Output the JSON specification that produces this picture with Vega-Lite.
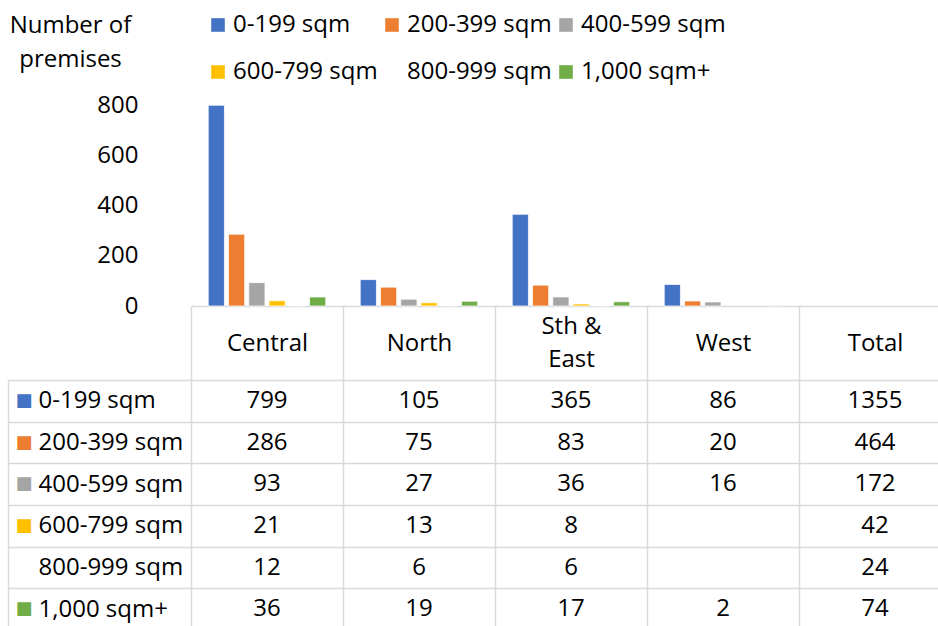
{
  "$schema": "https://vega.github.io/schema/vega-lite/v6.json",
  "padding": {"left": 7, "top": 13, "right": 0, "bottom": 0},
  "background": "white",
  "config": {
    "view": {"stroke": null},
    "font": "Open Sans",
    "axis": {"labelFont": "Open Sans", "titleFont": "Open Sans"},
    "legend": {"labelFont": "Open Sans"}
  },
  "datasets": {
    "premises": [
      {"region": "Central", "size": "0-199 sqm", "value": 799},
      {"region": "Central", "size": "200-399 sqm", "value": 286},
      {"region": "Central", "size": "400-599 sqm", "value": 93},
      {"region": "Central", "size": "600-799 sqm", "value": 21},
      {"region": "Central", "size": "800-999 sqm", "value": 12},
      {"region": "Central", "size": "1,000 sqm+", "value": 36},
      {"region": "North", "size": "0-199 sqm", "value": 105},
      {"region": "North", "size": "200-399 sqm", "value": 75},
      {"region": "North", "size": "400-599 sqm", "value": 27},
      {"region": "North", "size": "600-799 sqm", "value": 13},
      {"region": "North", "size": "800-999 sqm", "value": 6},
      {"region": "North", "size": "1,000 sqm+", "value": 19},
      {"region": "Sth & East", "size": "0-199 sqm", "value": 365},
      {"region": "Sth & East", "size": "200-399 sqm", "value": 83},
      {"region": "Sth & East", "size": "400-599 sqm", "value": 36},
      {"region": "Sth & East", "size": "600-799 sqm", "value": 8},
      {"region": "Sth & East", "size": "800-999 sqm", "value": 6},
      {"region": "Sth & East", "size": "1,000 sqm+", "value": 17},
      {"region": "West", "size": "0-199 sqm", "value": 86},
      {"region": "West", "size": "200-399 sqm", "value": 20},
      {"region": "West", "size": "400-599 sqm", "value": 16},
      {"region": "West", "size": "1,000 sqm+", "value": 2},
      {"region": "Total", "size": "0-199 sqm", "value": 1355},
      {"region": "Total", "size": "200-399 sqm", "value": 464},
      {"region": "Total", "size": "400-599 sqm", "value": 172},
      {"region": "Total", "size": "600-799 sqm", "value": 42},
      {"region": "Total", "size": "800-999 sqm", "value": 24},
      {"region": "Total", "size": "1,000 sqm+", "value": 74}
    ]
  },
  "data": {"name": "premises"},
  "spacing": 74,
  "bounds": "flush",
  "vconcat": [
    {
      "width": 760,
      "height": 201,
      "transform": [{"filter": "datum.region !== 'Total'"}],
      "mark": {"type": "bar", "stroke": "white", "strokeWidth": 0.75},
      "encoding": {
        "x": {
          "field": "region", "type": "nominal",
          "scale": {"domain": ["Central", "North", "Sth & East", "West", "Total"], "paddingInner": 0, "paddingOuter": 0},
          "axis": {
            "orient": "bottom", "title": null, "labelAngle": 0,
            "labelExpr": "datum.value === 'Sth & East' ? ['Sth &', 'East'] : datum.value",
            "labelFontSize": 24, "labelColor": "#000",
            "labelBaseline": {"condition": {"test": "datum.value === 'Sth & East'", "value": "line-bottom"}, "value": "middle"},
            "labelLineHeight": 33, "labelPadding": -37, "labelOverlap": false,
            "tickBand": "extent", "tickSize": 74, "tickColor": "#d9d9d9", "tickWidth": 1.5,
            "domainColor": "#d9d9d9", "domainWidth": 1.5, "grid": false
          }
        },
        "xOffset": {
          "field": "size", "type": "nominal",
          "scale": {"domain": ["0-199 sqm", "200-399 sqm", "400-599 sqm", "600-799 sqm", "800-999 sqm", "1,000 sqm+"], "paddingInner": 0.2, "paddingOuter": 0.85}
        },
        "y": {
          "field": "value", "type": "quantitative",
          "scale": {"domain": [0, 800], "nice": false},
          "axis": {
            "values": [0, 200, 400, 600, 800], "grid": false, "domain": false, "ticks": false,
            "labelFontSize": 24, "labelPadding": 53, "labelColor": "#000",
            "title": ["Number of", "premises"], "titleAngle": 0, "titleAlign": "center",
            "titleBaseline": "top", "titleX": -121, "titleY": -92, "titleFontSize": 24,
            "titleFontWeight": "normal", "titleLineHeight": 34, "titleColor": "#000"
          }
        },
        "color": {
          "field": "size", "type": "nominal",
          "scale": {
            "domain": ["0-199 sqm", "200-399 sqm", "400-599 sqm", "600-799 sqm", "800-999 sqm", "1,000 sqm+"],
            "range": ["#4472C4", "#ED7D31", "#A5A5A5", "#FFC000", "#FFFFFF", "#70AD47"]
          },
          "legend": {
            "orient": "none", "legendX": 15, "legendY": -92, "direction": "horizontal",
            "columns": 3, "title": null, "symbolType": "square", "symbolSize": 185,
            "symbolStrokeWidth": 0, "symbolOpacity": 1, "labelFontSize": 24, "labelColor": "#000",
            "labelOffset": 3, "columnPadding": 2, "rowPadding": 23, "labelLimit": 0, "padding": 0
          }
        }
      }
    },
    {
      "width": 760,
      "height": 250,
      "encoding": {
        "x": {
          "field": "region", "type": "nominal",
          "scale": {"domain": ["Central", "North", "Sth & East", "West", "Total"], "paddingInner": 0, "paddingOuter": 0},
          "axis": {
            "orient": "top", "title": null, "labels": false, "ticks": false, "domain": false,
            "grid": true, "tickBand": "extent", "gridColor": "#d9d9d9", "gridWidth": 1.5
          }
        }
      },
      "layer": [
        {
          "mark": {"type": "rect", "opacity": 0},
          "encoding": {
            "y": {
              "field": "size", "type": "nominal",
              "scale": {"domain": ["0-199 sqm", "200-399 sqm", "400-599 sqm", "600-799 sqm", "800-999 sqm", "1,000 sqm+"], "paddingInner": 0, "paddingOuter": 0},
              "axis": {
                "orient": "left", "offset": 183, "title": null, "grid": false, "ticks": false,
                "domain": true, "domainColor": "#d9d9d9", "domainWidth": 1.5,
                "labelExpr": "'■'", "labelAlign": "left", "labelBaseline": "middle",
                "labelPadding": -7, "labelFont": "DejaVu Sans", "labelFontSize": 18,
                "labelColor": {
                  "condition": [
                    {"test": "datum.value === '0-199 sqm'", "value": "#4472C4"},
                    {"test": "datum.value === '200-399 sqm'", "value": "#ED7D31"},
                    {"test": "datum.value === '400-599 sqm'", "value": "#A5A5A5"},
                    {"test": "datum.value === '600-799 sqm'", "value": "#FFC000"},
                    {"test": "datum.value === '800-999 sqm'", "value": "#FFFFFF"}
                  ],
                  "value": "#70AD47"
                }
              }
            }
          }
        },
        {
          "mark": {"type": "text", "fontSize": 24, "color": "#000", "font": "Open Sans"},
          "encoding": {
            "y": {
              "field": "size", "type": "nominal",
              "axis": {
                "orient": "left", "title": null, "grid": true, "gridColor": "#d9d9d9", "gridWidth": 1.5,
                "tickBand": "extent", "ticks": true, "tickSize": 183, "tickColor": "#d9d9d9", "tickWidth": 1.5,
                "domain": false, "labelAlign": "left", "labelBaseline": "middle", "labelPadding": -30,
                "labelFontSize": 24, "labelColor": "#000", "labelLimit": 0
              }
            },
            "text": {"field": "value", "type": "quantitative", "format": "d"}
          }
        }
      ],
      "resolve": {"axis": {"y": "independent"}}
    }
  ]
}
